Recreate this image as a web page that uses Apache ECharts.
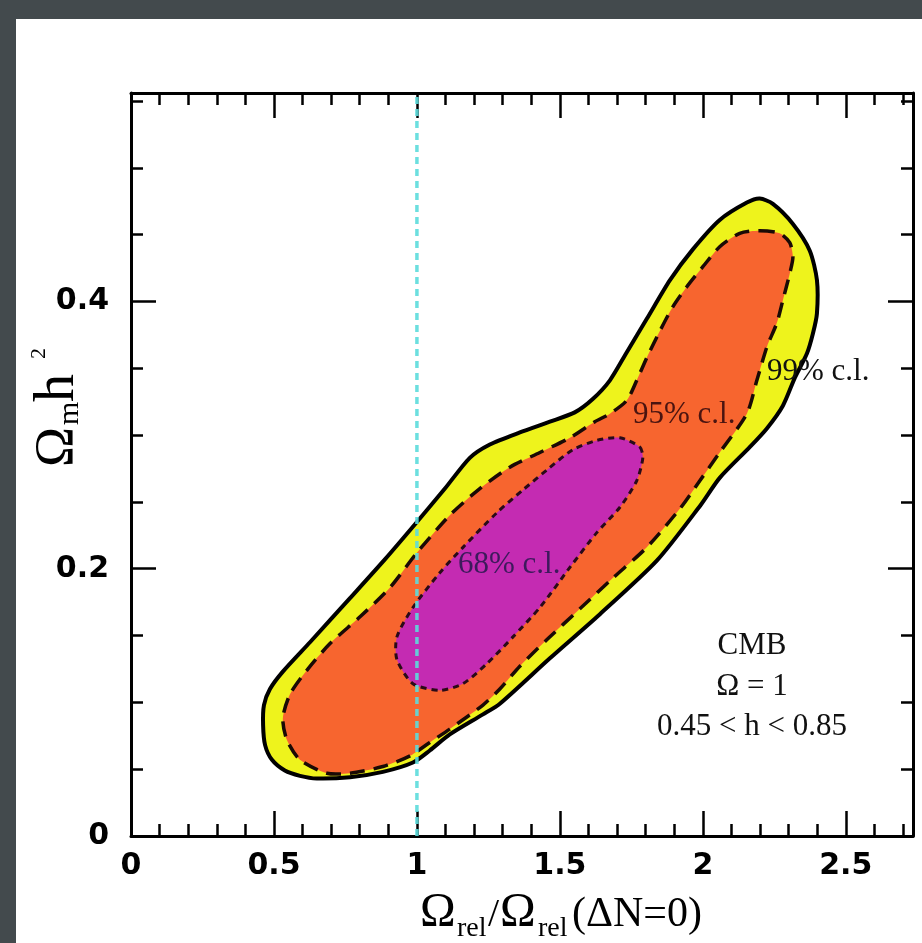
<!DOCTYPE html>
<html>
<head>
<meta charset="utf-8">
<script src="https://cdn.jsdelivr.net/npm/echarts@6/dist/echarts.min.js"></script>
<style>
html,body{margin:0;padding:0;background:#434a4d;}
#chart{width:922px;height:943px;}
</style>
</head>
<body>
<div id="chart"></div>
<script>
// ---- data ----
const xMin = 0, xMax = 2.735;
const yMin = 0, yMax = 0.556;
const xTickLabels = ['0', '0.5', '1', '1.5', '2', '2.5'];
const yTickLabels = ['0', '0.2', '0.4'];
const refLineX = 1;

// 99% c.l. contour (solid, yellow)
const contour99 = [[2.199,0.477],[2.245,0.473],[2.315,0.458],[2.374,0.438],[2.399,0.416],[2.399,0.391],[2.385,0.376],[2.364,0.361],[2.322,0.343],[2.280,0.322],[2.224,0.305],[2.164,0.291],[2.059,0.268],[1.990,0.247],[1.839,0.206],[1.640,0.166],[1.465,0.133],[1.290,0.099],[1.231,0.091],[1.115,0.076],[1.045,0.064],[0.986,0.055],[0.881,0.048],[0.766,0.044],[0.650,0.043],[0.591,0.045],[0.538,0.049],[0.493,0.057],[0.469,0.068],[0.462,0.083],[0.465,0.098],[0.486,0.110],[0.531,0.123],[0.626,0.145],[0.766,0.178],[0.888,0.207],[1.000,0.235],[1.098,0.260],[1.185,0.283],[1.255,0.293],[1.360,0.302],[1.465,0.310],[1.552,0.317],[1.615,0.327],[1.675,0.341],[1.734,0.362],[1.804,0.387],[1.885,0.416],[1.965,0.439],[2.059,0.461],[2.154,0.474]];

// 95% c.l. contour (long dashes, orange)
const contour95 = [[2.199,0.453],[2.269,0.451],[2.304,0.444],[2.315,0.433],[2.304,0.421],[2.280,0.401],[2.259,0.384],[2.224,0.366],[2.189,0.341],[2.154,0.316],[2.059,0.287],[1.990,0.266],[1.920,0.245],[1.804,0.216],[1.685,0.193],[1.570,0.170],[1.455,0.147],[1.360,0.127],[1.290,0.110],[1.231,0.098],[1.115,0.080],[1.045,0.070],[0.976,0.060],[0.881,0.052],[0.766,0.047],[0.685,0.047],[0.591,0.057],[0.545,0.072],[0.531,0.088],[0.556,0.106],[0.615,0.124],[0.696,0.144],[0.801,0.164],[0.906,0.186],[1.000,0.212],[1.115,0.240],[1.220,0.260],[1.325,0.276],[1.430,0.287],[1.535,0.298],[1.622,0.310],[1.675,0.316],[1.734,0.326],[1.769,0.341],[1.804,0.358],[1.850,0.378],[1.895,0.396],[1.944,0.411],[2.000,0.426],[2.059,0.441],[2.129,0.451]];

// 68% c.l. contour (short dashes, magenta)
const contour68 = [[1.780,0.291],[1.790,0.283],[1.769,0.266],[1.710,0.246],[1.629,0.227],[1.535,0.201],[1.430,0.171],[1.336,0.149],[1.245,0.129],[1.161,0.114],[1.080,0.109],[0.986,0.114],[0.930,0.132],[0.930,0.149],[0.986,0.171],[1.080,0.197],[1.161,0.216],[1.280,0.242],[1.371,0.259],[1.455,0.274],[1.545,0.289],[1.629,0.296],[1.710,0.298]];

const contourLabels = ['99% c.l.', '95% c.l.', '68% c.l.'];
const infoLines = ['CMB', 'Ω = 1', '0.45 < h < 0.85'];

// ---- chart ----
const chart = echarts.init(document.getElementById('chart'), null, {renderer: 'canvas'});

function fmt(list) {
  return function (v) {
    const s = String(+(+v).toFixed(3));
    return list.indexOf(s) >= 0 ? s : '';
  };
}

function polyRenderer(points, style) {
  return function (params, api) {
    if (params.dataIndex !== 0) return null;
    const pts = points.map(p => api.coord(p));
    return {type: 'polygon', shape: {points: pts, smooth: 0.25}, style: style, silent: true};
  };
}

const axisBase = {
  type: 'value', splitLine: {show: false},
  axisLine: {onZero: false, show: false},
  axisLabel: {show: false}
};
const labelFont = {fontFamily: 'DejaVu Sans', fontWeight: 'bold', fontSize: 30, color: '#000'};

const option = {
  backgroundColor: '#434a4d',
  animation: false,
  grid: {left: 131, right: 9, top: 93, bottom: 107, containLabel: false},
  xAxis: [
    Object.assign({}, axisBase, {min: xMin, max: xMax, interval: 0.5, position: 'bottom',
      axisLine: {show: true, onZero: false, lineStyle: {color: '#000', width: 3}},
      axisTick: {show: true, inside: true, length: 25, lineStyle: {color: '#000', width: 2.5}},
      axisLabel: Object.assign({show: true, margin: 15, formatter: fmt(xTickLabels)}, labelFont)}),
    Object.assign({}, axisBase, {min: xMin, max: xMax, interval: 0.1, position: 'bottom',
      axisTick: {show: true, inside: true, length: 12, lineStyle: {color: '#000', width: 2.5}}}),
    Object.assign({}, axisBase, {min: xMin, max: xMax, interval: 0.5, position: 'top',
      axisLine: {show: true, onZero: false, lineStyle: {color: '#000', width: 3}},
      axisTick: {show: true, inside: true, length: 25, lineStyle: {color: '#000', width: 2.5}}}),
    Object.assign({}, axisBase, {min: xMin, max: xMax, interval: 0.1, position: 'top',
      axisTick: {show: true, inside: true, length: 12, lineStyle: {color: '#000', width: 2.5}}})
  ],
  yAxis: [
    Object.assign({}, axisBase, {min: yMin, max: yMax, interval: 0.2, position: 'left',
      axisLine: {show: true, onZero: false, lineStyle: {color: '#000', width: 3}},
      axisTick: {show: true, inside: true, length: 25, lineStyle: {color: '#000', width: 2.5}},
      axisLabel: Object.assign({show: true, margin: 22, formatter: fmt(yTickLabels)}, labelFont)}),
    Object.assign({}, axisBase, {min: yMin, max: yMax, interval: 0.05, position: 'left',
      axisTick: {show: true, inside: true, length: 12, lineStyle: {color: '#000', width: 2.5}}}),
    Object.assign({}, axisBase, {min: yMin, max: yMax, interval: 0.2, position: 'right',
      axisLine: {show: true, onZero: false, lineStyle: {color: '#000', width: 3}},
      axisTick: {show: true, inside: true, length: 25, lineStyle: {color: '#000', width: 2.5}}}),
    Object.assign({}, axisBase, {min: yMin, max: yMax, interval: 0.05, position: 'right',
      axisTick: {show: true, inside: true, length: 12, lineStyle: {color: '#000', width: 2.5}}})
  ],
  series: [
    {type: 'custom', coordinateSystem: 'cartesian2d', xAxisIndex: 0, yAxisIndex: 0, clip: false, z: 2,
      data: contour99, encode: {x: 0, y: 1},
      renderItem: polyRenderer(contour99, {fill: '#eef31c', stroke: '#000', lineWidth: 4})},
    {type: 'custom', coordinateSystem: 'cartesian2d', xAxisIndex: 0, yAxisIndex: 0, clip: false, z: 3,
      data: contour95, encode: {x: 0, y: 1},
      renderItem: polyRenderer(contour95, {fill: '#f7652f', stroke: '#1a0a05', lineWidth: 3.5, lineDash: [15, 9]})},
    {type: 'custom', coordinateSystem: 'cartesian2d', xAxisIndex: 0, yAxisIndex: 0, clip: false, z: 4,
      data: contour68, encode: {x: 0, y: 1},
      renderItem: polyRenderer(contour68, {fill: '#c42bb2', stroke: '#2a0a18', lineWidth: 3, lineDash: [6, 5]})},
    {type: 'line', xAxisIndex: 0, yAxisIndex: 0, z: 6, symbol: 'none', silent: true,
      data: [[refLineX, yMin], [refLineX, yMax]],
      lineStyle: {color: '#5cdcdc', width: 3.5, type: [7, 5], opacity: 0.9}}
  ],
  graphic: [
    {type: 'rect', z: -10, shape: {x: 16, y: 19, width: 906, height: 924}, style: {fill: '#ffffff'}, silent: true},
    // contour labels
    {type: 'text', z: 100, x: 767, y: 372, style: {text: contourLabels[0], font: '31px "Liberation Serif"', fill: '#111', verticalAlign: 'middle'}},
    {type: 'text', z: 100, x: 633, y: 415, style: {text: contourLabels[1], font: '31px "Liberation Serif"', fill: '#4a1410', verticalAlign: 'middle'}},
    {type: 'text', z: 100, x: 458, y: 565, style: {text: contourLabels[2], font: '31px "Liberation Serif"', fill: '#3d1a5c', verticalAlign: 'middle'}},
    // info block
    {type: 'text', z: 100, x: 752, y: 646, style: {text: infoLines[0], font: '31px "Liberation Serif"', fill: '#111', align: 'center', verticalAlign: 'middle'}},
    {type: 'text', z: 100, x: 752, y: 687, style: {text: infoLines[1], font: '31px "Liberation Serif"', fill: '#111', align: 'center', verticalAlign: 'middle'}},
    {type: 'text', z: 100, x: 752, y: 727, style: {text: infoLines[2], font: '31px "Liberation Serif"', fill: '#111', align: 'center', verticalAlign: 'middle'}},
    // x-axis title
    {type: 'group', z: 100, children: [
      {type: 'text', x: 420, y: 913, style: {text: 'Ω', font: '48px "Liberation Serif"', fill: '#000', verticalAlign: 'middle'}},
      {type: 'text', x: 457, y: 929, style: {text: 'rel', font: '28px "Liberation Serif"', fill: '#000', verticalAlign: 'middle'}},
      {type: 'text', x: 488, y: 915, style: {text: '/', font: '40px "Liberation Serif"', fill: '#000', verticalAlign: 'middle'}},
      {type: 'text', x: 500, y: 913, style: {text: 'Ω', font: '48px "Liberation Serif"', fill: '#000', verticalAlign: 'middle'}},
      {type: 'text', x: 538, y: 929, style: {text: 'rel', font: '28px "Liberation Serif"', fill: '#000', verticalAlign: 'middle'}},
      {type: 'text', x: 572, y: 915, style: {text: '(ΔN=0)', font: '42px "Liberation Serif"', fill: '#000', verticalAlign: 'middle'}}
    ]},
    // y-axis title (rotated)
    {type: 'group', z: 100, x: 58, y: 467, rotation: Math.PI / 2, children: [
      {type: 'text', x: 0, y: 0, style: {text: 'Ω', font: '54px "Liberation Serif"', fill: '#000', verticalAlign: 'middle'}},
      {type: 'text', x: 42, y: 12, style: {text: 'm', font: '30px "Liberation Serif"', fill: '#000', verticalAlign: 'middle'}},
      {type: 'text', x: 65, y: 0, style: {text: 'h', font: '56px "Liberation Serif"', fill: '#000', verticalAlign: 'middle'}},
      {type: 'text', x: 108, y: -19, style: {text: '2', font: '22px "Liberation Serif"', fill: '#000', verticalAlign: 'middle'}}
    ]}
  ]
};
chart.setOption(option);
</script>
</body>
</html>
